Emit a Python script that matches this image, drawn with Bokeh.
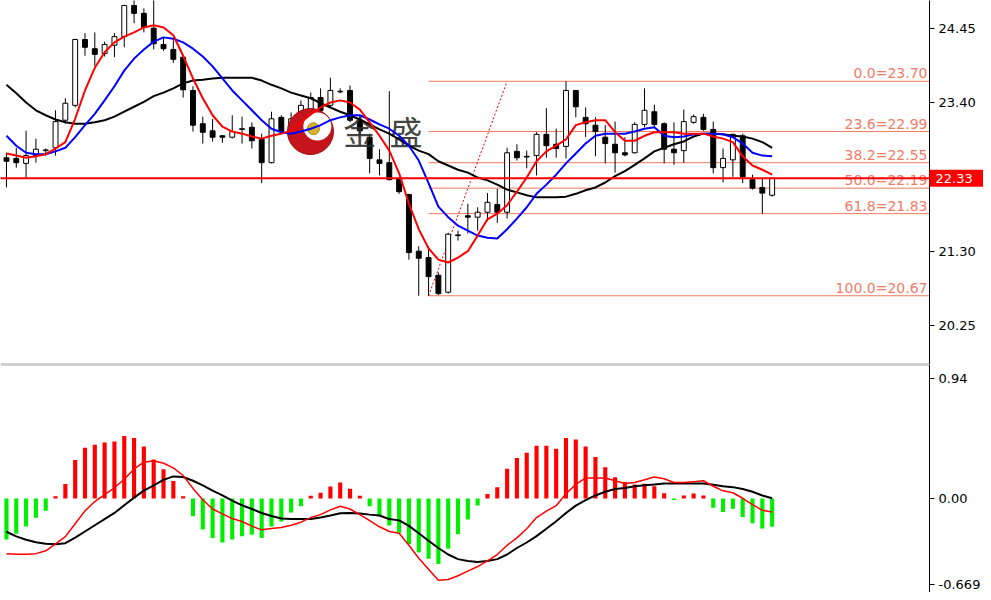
from bokeh.plotting import figure
from bokeh.layouts import column
from bokeh.models import ColumnDataSource, Range1d, FixedTicker, Span, NumeralTickFormatter
from bokeh.core.properties import value
from bokeh.embed import file_html
from bokeh.resources import INLINE

# ---------------- data ----------------
opens = [22.62, 22.61, 22.54, 22.65, 22.72, 22.76, 23.15, 23.36, 24.29, 24.16,
         24.09, 24.21, 24.33, 24.77, 24.66, 24.45, 24.22, 24.15, 24.04, 23.57,
         23.10, 23.00, 22.93, 22.91, 23.02, 23.05, 22.88, 22.55, 23.19, 23.03,
         23.17, 23.29, 23.47, 23.36, 23.55, 23.57, 23.15, 22.91, 22.59, 22.55,
         22.33, 22.10, 21.30, 21.21, 20.96, 20.72, 21.52, 21.80, 21.78, 21.85,
         21.96, 21.85, 22.71, 22.63, 22.65, 22.95, 22.81, 22.78, 23.57, 23.19,
         23.08, 22.91, 22.81, 22.69, 22.69, 23.09, 23.27, 23.10, 22.74, 22.72,
         23.12, 23.19, 23.02, 22.48, 22.59, 22.93, 22.31, 22.20, 22.09]
highs = [22.69, 22.76, 23.00, 22.89, 22.75, 23.29, 23.46, 24.30, 24.38, 24.39,
         24.26, 24.38, 24.78, 24.86, 24.73, 24.86, 24.32, 24.28, 24.05, 23.63,
         23.20, 23.17, 22.94, 23.22, 23.20, 23.12, 22.96, 23.27, 23.22, 23.26,
         23.43, 23.54, 23.60, 23.75, 23.60, 23.64, 23.22, 22.96, 22.74, 23.56,
         22.34, 22.11, 21.37, 21.37, 21.00, 21.56, 21.59, 21.97, 21.92, 22.12,
         22.18, 22.76, 22.81, 22.72, 22.98, 23.32, 23.03, 23.70, 23.57, 23.33,
         23.19, 23.08, 23.13, 22.91, 23.12, 23.60, 23.37, 23.12, 23.12, 23.30,
         23.23, 23.24, 23.13, 22.75, 22.96, 22.96, 22.38, 22.33, 22.34]
lows = [22.20, 22.48, 22.34, 22.55, 22.65, 22.65, 23.10, 23.33, 24.06, 23.92,
        24.05, 24.04, 24.18, 24.52, 24.39, 24.15, 24.13, 23.96, 23.47, 22.99,
        22.82, 22.85, 22.83, 22.89, 22.82, 22.75, 22.26, 22.54, 22.98, 22.98,
        23.12, 23.22, 23.22, 23.33, 23.53, 23.12, 22.93, 22.40, 22.37, 22.30,
        22.11, 21.18, 20.67, 20.67, 20.68, 20.70, 21.45, 21.55, 21.59, 21.73,
        21.70, 21.76, 22.58, 22.47, 22.37, 22.62, 22.62, 22.61, 23.19, 22.91,
        22.64, 22.54, 22.41, 22.64, 22.68, 23.05, 23.05, 22.54, 22.52, 22.55,
        23.10, 23.00, 22.40, 22.27, 22.35, 22.26, 22.17, 21.83, 22.07]
closes = [22.57, 22.55, 22.65, 22.74, 22.73, 23.13, 23.39, 24.29, 24.18, 24.08,
          24.22, 24.33, 24.77, 24.66, 24.46, 24.23, 24.16, 24.01, 23.58, 23.08,
          22.98, 22.91, 22.91, 22.99, 23.03, 22.86, 22.55, 23.17, 22.99, 23.17,
          23.36, 23.47, 23.29, 23.57, 23.56, 23.15, 23.00, 22.61, 22.54, 22.31,
          22.14, 21.28, 21.20, 20.94, 20.70, 21.54, 21.53, 21.78, 21.85, 21.99,
          21.85, 22.69, 22.62, 22.64, 22.95, 22.79, 22.75, 23.57, 23.34, 23.10,
          22.99, 22.82, 22.69, 22.66, 23.09, 23.29, 23.09, 22.74, 22.69, 23.13,
          23.20, 23.02, 22.48, 22.61, 22.95, 22.35, 22.19, 22.12, 22.33]

ma_fast = [22.68, 22.65, 22.62, 22.64, 22.67, 22.75, 22.84, 23.17, 23.57, 23.89,
           24.11, 24.25, 24.33, 24.39, 24.46, 24.49, 24.46, 24.35, 24.06, 23.74,
           23.46, 23.22, 23.06, 22.99, 22.96, 22.92, 22.89, 22.93, 22.96, 23.00,
           23.12, 23.23, 23.33, 23.40, 23.43, 23.40, 23.30, 23.12, 22.93, 22.72,
           22.40, 21.97, 21.61, 21.34, 21.18, 21.14, 21.21, 21.30, 21.52, 21.75,
           21.83, 21.95, 22.14, 22.34, 22.57, 22.71, 22.79, 22.88, 23.08, 23.12,
           23.15, 23.15, 22.98, 22.86, 22.86, 22.93, 22.98, 22.98, 22.98, 22.96,
           22.96, 22.96, 22.92, 22.89, 22.84, 22.64, 22.51, 22.45, 22.38]
ma_mid = [22.93, 22.79, 22.69, 22.67, 22.67, 22.71, 22.76, 22.91, 23.08, 23.24,
          23.43, 23.63, 23.85, 24.02, 24.15, 24.26, 24.32, 24.30, 24.25, 24.16,
          24.05, 23.91, 23.74, 23.57, 23.43, 23.29, 23.15, 23.03, 22.98, 22.96,
          22.99, 23.03, 23.08, 23.15, 23.19, 23.22, 23.22, 23.16, 23.09, 23.03,
          22.93, 22.79, 22.58, 22.26, 21.93, 21.78, 21.66, 21.59, 21.52, 21.49,
          21.48, 21.61, 21.76, 21.92, 22.11, 22.24, 22.38, 22.54, 22.68, 22.82,
          22.93, 22.96, 22.96, 22.96, 22.99, 23.03, 23.05, 22.93, 22.91, 22.92,
          22.95, 22.96, 22.96, 22.95, 22.91, 22.82, 22.69, 22.65, 22.64]
ma_slow = [23.65, 23.53, 23.40, 23.29, 23.22, 23.16, 23.12, 23.10, 23.10, 23.12,
           23.15, 23.20, 23.27, 23.34, 23.41, 23.49, 23.54, 23.60, 23.67, 23.71,
           23.72, 23.74, 23.75, 23.75, 23.75, 23.75, 23.71, 23.65, 23.60, 23.54,
           23.50, 23.46, 23.39, 23.33, 23.27, 23.22, 23.16, 23.09, 23.02, 22.96,
           22.88, 22.79, 22.72, 22.67, 22.57, 22.51, 22.45, 22.41, 22.34, 22.30,
           22.24, 22.17, 22.13, 22.09, 22.06, 22.06, 22.06, 22.07, 22.11, 22.16,
           22.20, 22.27, 22.36, 22.43, 22.52, 22.61, 22.71, 22.76, 22.81, 22.85,
           22.92, 22.96, 22.96, 22.95, 22.93, 22.92, 22.89, 22.84, 22.76]

macd_hist = [-0.320, -0.276, -0.219, -0.151, -0.096, 0.017, 0.113, 0.301, 0.397, 0.421,
             0.438, 0.445, 0.488, 0.474, 0.406, 0.305, 0.229, 0.137, 0.017, -0.139,
             -0.243, -0.308, -0.344, -0.320, -0.296, -0.284, -0.308, -0.219, -0.180, -0.110,
             -0.060, 0.022, 0.046, 0.094, 0.125, 0.077, 0.022, -0.060, -0.139, -0.211,
             -0.272, -0.356, -0.421, -0.471, -0.512, -0.392, -0.279, -0.164, -0.055, 0.036,
             0.089, 0.233, 0.317, 0.358, 0.413, 0.413, 0.390, 0.474, 0.462, 0.406,
             0.325, 0.245, 0.166, 0.130, 0.110, 0.115, 0.095, 0.042, -0.011, 0.024,
             0.040, 0.024, -0.073, -0.105, -0.080, -0.145, -0.194, -0.235, -0.220]
macd_main = [-0.431, -0.435, -0.435, -0.431, -0.409, -0.354, -0.298, -0.197, -0.097, -0.024,
             0.031, 0.084, 0.151, 0.231, 0.284, 0.296, 0.276, 0.240, 0.180, 0.079,
             -0.010, -0.082, -0.120, -0.157, -0.180, -0.216, -0.245, -0.234, -0.226, -0.209,
             -0.185, -0.149, -0.126, -0.089, -0.061, -0.082, -0.126, -0.173, -0.221, -0.258,
             -0.272, -0.366, -0.467, -0.553, -0.640, -0.633, -0.604, -0.568, -0.532, -0.488,
             -0.438, -0.366, -0.308, -0.236, -0.149, -0.099, -0.056, 0.038, 0.110, 0.161,
             0.161, 0.161, 0.139, 0.118, 0.125, 0.146, 0.168, 0.154, 0.125, 0.125,
             0.132, 0.139, 0.096, 0.060, 0.045, 0.002, -0.048, -0.092, -0.106]
macd_signal = [-0.260, -0.296, -0.322, -0.342, -0.354, -0.358, -0.349, -0.306, -0.258, -0.209,
               -0.161, -0.113, -0.053, 0.007, 0.062, 0.103, 0.146, 0.173, 0.168, 0.139,
               0.103, 0.062, 0.024, -0.017, -0.053, -0.082, -0.113, -0.137, -0.157, -0.161,
               -0.161, -0.161, -0.149, -0.133, -0.115, -0.113, -0.118, -0.126, -0.133, -0.161,
               -0.171, -0.214, -0.272, -0.330, -0.387, -0.438, -0.474, -0.488, -0.496, -0.488,
               -0.474, -0.438, -0.387, -0.344, -0.294, -0.236, -0.178, -0.113, -0.056, -0.012,
               0.024, 0.053, 0.074, 0.082, 0.096, 0.103, 0.110, 0.118, 0.118, 0.118,
               0.118, 0.118, 0.107, 0.096, 0.089, 0.074, 0.053, 0.024, 0.002]

fib_ratios = [0.0, 23.6, 38.2, 50.0, 61.8, 100.0]
fib_levels = [23.70, 22.99, 22.55, 22.19, 21.83, 20.67]
fib_anchor_low_bar = 43     # bar where the retracement starts (low 20.67)
fib_anchor_high_bar = 51    # end of the dotted trend line (at 23.70)

price_ticks = [24.45, 23.40, 21.30, 20.25]
macd_ticks = [0.94, 0.00, -0.669]
macd_tick_labels = ["0.94", "0.00", "-0.669"]
last_price = closes[-1]
watermark = ["金", "盛"]

# ---------------- layout / style ----------------
FONT = "DejaVu Sans"
X_START, X_END = -0.607, 94.03
TOP_Y = (19.699, 24.841)
BOT_Y = (-0.735, 1.048)
W = 983
AXIS_W = 48
PX_PER_BAR = (W - AXIS_W) / (X_END - X_START)
idx = list(range(len(opens)))


def base_fig(h, yr):
    f = figure(width=W, height=h, x_range=Range1d(X_START, X_END), y_range=Range1d(*yr),
               output_backend="svg", toolbar_location=None, x_axis_location=None,
               y_axis_location="right", min_border_left=0, min_border_top=0,
               min_border_bottom=0, min_border_right=AXIS_W)
    f.grid.visible = False
    f.outline_line_color = None
    f.background_fill_color = "white"
    f.border_fill_color = "white"
    ax = f.yaxis[0]
    ax.axis_line_color = "black"
    ax.axis_line_width = 1
    ax.major_tick_out = 5
    ax.major_tick_in = 0
    ax.minor_tick_line_color = None
    ax.major_label_text_font = FONT
    ax.major_label_text_font_size = "13px"
    ax.major_label_text_color = "black"
    ax.major_label_standoff = 4
    return f


# ---------------- price pane ----------------
p = base_fig(364, TOP_Y)
p.yaxis[0].ticker = FixedTicker(ticks=price_ticks)
p.yaxis[0].formatter = NumeralTickFormatter(format="0.00")

# fibonacci levels
nf = len(fib_levels)
p.segment(x0=[fib_anchor_low_bar] * nf, x1=[X_END] * nf,
          y0=fib_levels, y1=fib_levels, line_color="#f07a5e", line_width=1)
p.text(x=[X_END] * nf, y=fib_levels,
       text=[f"{r:.1f}={v:.2f}" for r, v in zip(fib_ratios, fib_levels)],
       text_font=value(FONT), text_font_size="14px", text_color="#f27b68",
       text_align="right", text_baseline="bottom", x_offset=-2)
p.segment(x0=[fib_anchor_low_bar], x1=[fib_anchor_high_bar],
          y0=[min(fib_levels)], y1=[max(fib_levels)],
          line_color="red", line_width=1, line_dash="2 2")

# candles
up = [c >= o for o, c in zip(opens, closes)]
p.segment(x0=idx, x1=idx, y0=lows, y1=highs, line_color="black", line_width=1)
bull = ColumnDataSource(dict(x=[i for i in idx if up[i]],
                             top=[closes[i] for i in idx if up[i]],
                             bottom=[opens[i] for i in idx if up[i]]))
bear = ColumnDataSource(dict(x=[i for i in idx if not up[i]],
                             top=[opens[i] for i in idx if not up[i]],
                             bottom=[closes[i] for i in idx if not up[i]]))
p.vbar(x="x", top="top", bottom="bottom", width=0.5, source=bull,
       fill_color="white", line_color="black", line_width=1)
p.vbar(x="x", top="top", bottom="bottom", width=0.5, source=bear,
       fill_color="black", line_color="black", line_width=1)

# logo (decoration)
LOGO_X, LOGO_Y = 30.97, 22.99
p.scatter(x=[LOGO_X], y=[LOGO_Y], size=46, marker="circle",
          fill_color="#c4141c", line_color="#9a0c10", line_width=1)
p.scatter(x=[LOGO_X + 0.7], y=[LOGO_Y + 0.07], size=28, marker="circle",
          fill_color="white", line_color=None)
p.scatter(x=[LOGO_X + 0.3], y=[LOGO_Y + 0.04], size=12, marker="circle",
          fill_color="#d8b030", line_color="#b08a20")
p.text(x=[36.0, 40.7], y=[23.00, 23.00], text=watermark,
       text_font=value("Noto Sans CJK SC"), text_font_size="33px",
       text_color="#2b2b2b", text_alpha=0.9, text_align="center",
       text_baseline="middle")

# moving averages
p.line(idx, ma_slow, line_color="black", line_width=2)
p.line(idx, ma_mid, line_color="#0000ff", line_width=2)
p.line(idx, ma_fast, line_color="#ff0000", line_width=2)

# current price line + price tag on the axis (overlay level: not clipped to the frame)
p.add_layout(Span(location=last_price, dimension="width", line_color="#ff0000", line_width=2))
p.add_layout(Span(location=TOP_Y[0], dimension="width", line_color="#a0a0a0", line_width=2))
p.rect(x=[X_END + 28 / PX_PER_BAR], y=[last_price], width=56, height=17,
       width_units="screen", height_units="screen",
       fill_color="#ff0000", line_color=None, level="overlay")
p.text(x=[X_END], y=[last_price], text=[f"{last_price:.2f}"], x_offset=6,
       text_font=value(FONT), text_font_size="13px", text_color="white",
       text_align="left", text_baseline="middle", level="overlay")

# ---------------- MACD pane ----------------
q = base_fig(228, BOT_Y)
q.yaxis[0].ticker = FixedTicker(ticks=macd_ticks)
q.yaxis[0].major_label_overrides = {t: s for t, s in zip(macd_ticks, macd_tick_labels)}
q.add_layout(Span(location=BOT_Y[1], dimension="width", line_color="#a0a0a0", line_width=2))
q.vbar(x=idx, top=macd_hist, bottom=0, width=0.42,
       fill_color=["#ff0000" if v > 0 else "#00ee00" for v in macd_hist], line_color=None)
q.line(idx, macd_signal, line_color="black", line_width=2)
q.line(idx, macd_main, line_color="#ff0000", line_width=1.5)

layout = column(p, q, spacing=0)
open("out.html", "w").write(file_html(layout, INLINE))
